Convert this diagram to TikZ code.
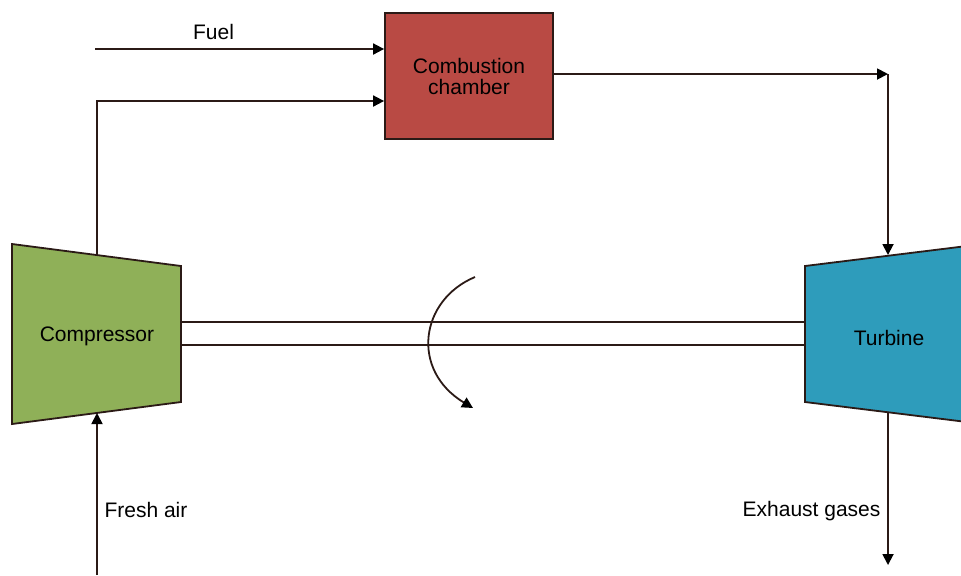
\documentclass[tikz,border=0pt]{standalone}
\usepackage{fontspec}
\setmainfont{Liberation Sans}
\usetikzlibrary{arrows.meta}
\definecolor{compgreen}{RGB}{143,176,88}
\definecolor{chamberred}{RGB}{185,74,68}
\definecolor{turbblue}{RGB}{46,156,187}
\definecolor{edge}{RGB}{43,26,22}

\begin{document}
\begin{tikzpicture}[x=0.5pt,y=-0.5pt,line width=0.9pt,
		flow/.style={draw=edge,-{Triangle[length=5.5pt,width=5.5pt,color=black]}},
		lbl/.style={font=\fontsize{10.5}{10.5}\selectfont}]
			% Рамка рисунка
			\clip (0,0) rectangle (961,575);
			
			% Камера сгорания
			\node[draw=edge, fill=chamberred, minimum width=84pt, minimum height=63pt, inner sep=0pt, align=center, lbl] (chamber) at (469,76) {Combustion\\chamber};
			
			% Компрессор и турбина
			\filldraw[fill=compgreen, draw=edge] (12,244) -- (181,266) -- (181,402) -- (12,424) -- cycle;
			\node[lbl] (comp) at (97,336) {Compressor};
			\filldraw[fill=turbblue, draw=edge] (805,266) -- (975,245) -- (975,423) -- (805,402) -- cycle;
			\node[lbl] (turb) at (889,338) {Turbine};
			
			% Точки подключения
			\coordinate (compTop) at (97,255);
			\coordinate (compBot) at (97,413);
			\coordinate (turbTop) at (888,255);
			\coordinate (turbBot) at (888,412);
			\coordinate (fuelIn) at (95,49);
			\coordinate (airLvl) at (0,101);
			\coordinate (gasLvl) at (0,74);
			\coordinate (airIn) at (97,575);
			\coordinate (exhOut) at (888,565);
			
			% Топливо
			\draw[flow] (fuelIn) -- (fuelIn -| chamber.west) node[pos=0.41, above, yshift=1pt, lbl] {Fuel};
			
			% Сжатый воздух в камеру
			\draw[flow] (compTop) |- (chamber.west |- airLvl);
			
			% Газы из камеры в турбину
			\draw[flow] (chamber.east |- gasLvl) -- (turbTop |- gasLvl);
			\draw[flow] (turbTop |- gasLvl) -- (turbTop);
			
			% Вал
			\draw[edge] (181,322) -- (805,322);
			\draw[edge] (181,345) -- (805,345);
			
			% Направление вращения
			\coordinate (rotA) at (475,277);
			\coordinate (rotB) at (473,408);
			\draw[flow] (rotA) .. controls (420,300) and (410,370) .. (rotB);
			
			% Свежий воздух
			\draw[flow] (airIn) -- (compBot) node[pos=0.4, right, lbl] {Fresh air};
			
			% Выхлопные газы
			\draw[flow] (turbBot) -- (exhOut) node[pos=0.65, left, lbl] {Exhaust gases};
			
		\end{tikzpicture}
\end{document}
